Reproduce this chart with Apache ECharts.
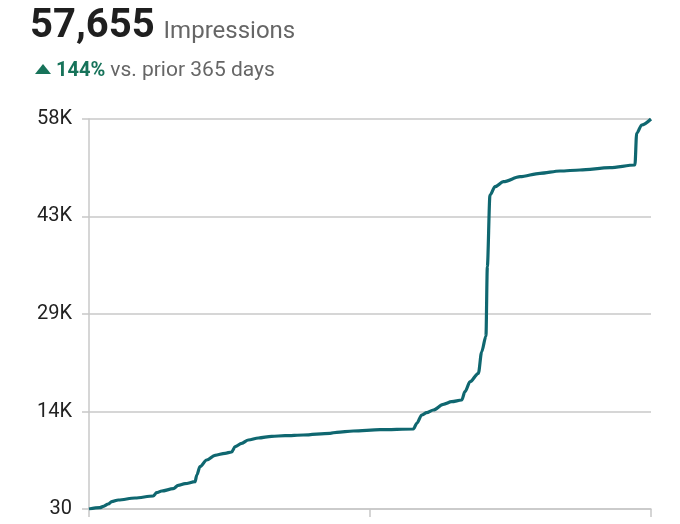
<!DOCTYPE html>
<html>
<head>
<meta charset="utf-8">
<script src="https://cdn.jsdelivr.net/npm/echarts@6/dist/echarts.min.js"></script>
<style>
html,body{margin:0;padding:0;background:#fff;}
#chart{width:680px;height:524px;}
</style>
</head>
<body>
<div id="chart"></div>
<script>
// Day index (0..364) and cumulative impressions
const days = [0, 7.1, 9.3, 12.5, 14.7, 19.0, 29.8, 41.6, 43.8, 47.1, 54.6, 57.8, 62.2, 68.7, 69.8, 71.9, 76.2, 81.6, 88.1, 92.4, 94.6, 98.9, 103.2, 109.7, 118.3, 127.0, 138.8, 156.1, 160.4, 171.2, 188.5, 210.1, 212.3, 215.5, 218.7, 223.0, 229.5, 234.9, 241.4, 243.5, 246.8, 252.2, 254.3, 257.1, 258.0, 259.7, 263.0, 268.4, 279.2, 292.1, 305.1, 318.0, 337.4, 353.6, 354.7, 358.0, 364];
const impressions = [30, 222, 429, 769, 1109, 1360, 1655, 1951, 2439, 2690, 3030, 3532, 3768, 4064, 5054, 6280, 7270, 7965, 8260, 8452, 9235, 9738, 10225, 10521, 10772, 10861, 10964, 11215, 11363, 11555, 11747, 11851, 12693, 13919, 14259, 14658, 15500, 15885, 16136, 17362, 18840, 20081, 23229, 25590, 35833, 46427, 47653, 48392, 49131, 49633, 49973, 50121, 50461, 50860, 55544, 56770, 57655];
const yTicks = [30, 14436, 28843, 43249, 57655];
const yTickLabels = ['30', '14K', '29K', '43K', '58K'];
const xTicks = [0, 182, 364];
const totalText = '57,655';
const metricName = 'Impressions';
const changeText = '144%';
const compareText = 'vs. prior 365 days';

const chart = echarts.init(document.getElementById('chart'));
const seriesData = days.map((d, i) => [d, impressions[i]]);
const gridColor = '#c8c8c8';
const upColor = '#17735a';

chart.setOption({
  animation: false,
  backgroundColor: '#fff',
  textStyle: { fontFamily: 'Roboto' },
  title: [
    {
      left: 25, top: 2,
      text: '{big|' + totalText + '}{gap| }{unit|' + metricName + '}',
      textStyle: {
        fontWeight: 'normal',
        rich: {
          big: { fontSize: 40, fontWeight: 'bold', color: '#1f1f1f', fontFamily: 'Roboto' },
          gap: { fontSize: 12, width: 9 },
          unit: { fontSize: 24, fontWeight: 'normal', color: '#666666', fontFamily: 'Roboto', padding: [9, 0, 0, 0] }
        }
      }
    },
    {
      left: 51, top: 55,
      text: '{pct|' + changeText + '}{g2| }{cmp|' + compareText + '}',
      textStyle: {
        fontWeight: 'normal',
        rich: {
          pct: { fontSize: 20, fontWeight: 'bold', color: upColor, fontFamily: 'Roboto' },
          g2: { fontSize: 10, width: 5 },
          cmp: { fontSize: 21, fontWeight: 'normal', color: '#666666', fontFamily: 'Roboto' }
        }
      }
    }
  ],
  graphic: [{
    type: 'polygon',
    shape: { points: [[35, 74], [51, 74], [43, 64]] },
    style: { fill: upColor }
  }],
  grid: { left: 89, right: 29, top: 119, bottom: 15, containLabel: false },
  xAxis: {
    type: 'value', min: 0, max: 364,
    axisLine: { show: true, lineStyle: { color: gridColor, width: 1.5 } },
    axisTick: { show: true, length: 8, lineStyle: { color: gridColor, width: 1.5 }, customValues: xTicks },
    axisLabel: { show: false },
    splitLine: { show: false }
  },
  yAxis: {
    type: 'value', min: 30, max: 57655,
    axisLine: { show: true, lineStyle: { color: gridColor, width: 1.5 } },
    axisTick: { show: true, length: 7, lineStyle: { color: gridColor, width: 1.5 }, customValues: yTicks },
    axisLabel: {
      customValues: yTicks,
      margin: 17,
      fontSize: 20, color: '#222', fontFamily: 'Roboto',
      formatter: v => { const i = yTicks.indexOf(v); return i >= 0 ? yTickLabels[i] : ''; }
    },
    splitLine: { show: true, lineStyle: { color: gridColor, width: 1.5 } }
  },
  series: [{
    type: 'line',
    data: seriesData,
    showSymbol: false,
    smooth: 0.3,
    smoothMonotone: 'x',
    lineStyle: { color: '#0f6770', width: 3.2 },
    itemStyle: { color: '#0f6770' }
  }]
});
</script>
</body>
</html>
